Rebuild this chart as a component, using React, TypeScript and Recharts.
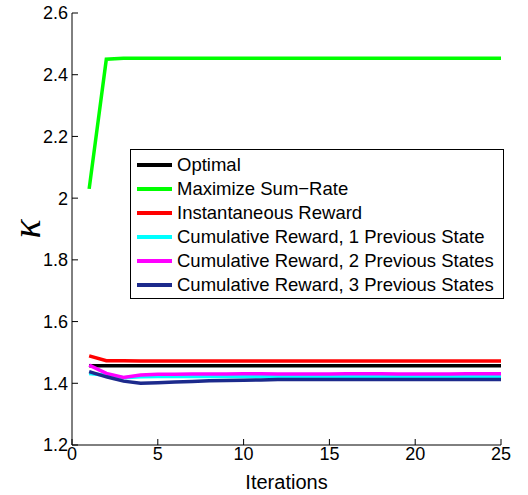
import React from 'react';
import { LineChart, Line, XAxis, YAxis, Legend } from 'recharts';

const iterations = [1, 2, 3, 4, 5, 6, 7, 8, 9, 10, 11, 12, 13, 14, 15, 16, 17, 18, 19, 20, 21, 22, 23, 24, 25];

const optimal = [1.457, 1.457, 1.457, 1.457, 1.457, 1.457, 1.457, 1.457, 1.457, 1.457, 1.457, 1.457, 1.457, 1.457, 1.457, 1.457, 1.457, 1.457, 1.457, 1.457, 1.457, 1.457, 1.457, 1.457, 1.457];
const maxSumRate = [2.03, 2.45, 2.453, 2.453, 2.453, 2.453, 2.453, 2.453, 2.453, 2.453, 2.453, 2.453, 2.453, 2.453, 2.453, 2.453, 2.453, 2.453, 2.453, 2.453, 2.453, 2.453, 2.453, 2.453, 2.453];
const instReward = [1.489, 1.473, 1.473, 1.472, 1.472, 1.472, 1.472, 1.472, 1.472, 1.472, 1.472, 1.472, 1.472, 1.472, 1.472, 1.472, 1.472, 1.472, 1.472, 1.472, 1.472, 1.472, 1.472, 1.472, 1.472];
const cumReward1 = [1.432, 1.426, 1.418, 1.421, 1.422, 1.422, 1.422, 1.422, 1.422, 1.422, 1.422, 1.422, 1.422, 1.422, 1.422, 1.422, 1.422, 1.422, 1.422, 1.422, 1.422, 1.422, 1.422, 1.422, 1.422];
const cumReward2 = [1.459, 1.432, 1.419, 1.427, 1.429, 1.429, 1.430, 1.430, 1.430, 1.431, 1.431, 1.430, 1.430, 1.430, 1.430, 1.431, 1.431, 1.431, 1.430, 1.430, 1.430, 1.430, 1.431, 1.431, 1.431];
const cumReward3 = [1.438, 1.421, 1.407, 1.400, 1.402, 1.404, 1.406, 1.408, 1.409, 1.410, 1.411, 1.412, 1.412, 1.412, 1.412, 1.412, 1.412, 1.412, 1.412, 1.412, 1.412, 1.412, 1.412, 1.412, 1.412];

const xTicks = [0, 5, 10, 15, 20, 25];
const yTicks = [1.2, 1.4, 1.6, 1.8, 2, 2.2, 2.4, 2.6];

const SERIES = [
  { key: 'optimal', name: 'Optimal', color: '#000000', values: optimal },
  { key: 'maxSumRate', name: 'Maximize Sum\u2212Rate', color: '#00ff00', values: maxSumRate },
  { key: 'instReward', name: 'Instantaneous Reward', color: '#ff0000', values: instReward },
  { key: 'cumReward1', name: 'Cumulative Reward, 1 Previous State', color: '#00ffff', values: cumReward1 },
  { key: 'cumReward2', name: 'Cumulative Reward, 2 Previous States', color: '#ff00ff', values: cumReward2 },
  { key: 'cumReward3', name: 'Cumulative Reward, 3 Previous States', color: '#1c2a8c', values: cumReward3 },
];

const data = iterations.map((it, i) => {
  const row: Record<string, number> = { it };
  SERIES.forEach((s) => {
    row[s.key] = s.values[i];
  });
  return row;
});

const FONT = '"Liberation Sans", Arial, sans-serif';
const tickStyle = { fill: '#000', fontSize: 18, fontFamily: FONT };

// legend box keeps the plotting order (the default sorter would reorder it)
function LegendBox() {
  return (
    <div
      style={{
        border: '1px solid #000',
        background: '#fff',
        padding: '3px 0 1px 6px',
        fontFamily: FONT,
        fontSize: 18.5,
        color: '#000',
        boxSizing: 'border-box',
        textAlign: 'left',
        whiteSpace: 'nowrap',
      }}
    >
      {SERIES.map((s) => (
        <div key={s.key} style={{ display: 'flex', alignItems: 'center', height: 24 }}>
          <div style={{ width: 35, height: 3.5, background: s.color, marginRight: 5, flexShrink: 0 }} />
          <span>{s.name}</span>
        </div>
      ))}
    </div>
  );
}

export default function App() {
  return (
    <div style={{ position: 'absolute', left: 0, top: 0, background: '#fff' }}>
      <LineChart width={528} height={495} data={data} margin={{ top: 13, right: 27, bottom: 0, left: 0 }}>
        <XAxis
          xAxisId="bottom"
          dataKey="it"
          type="number"
          domain={[0, 25]}
          ticks={xTicks}
          height={50}
          tick={tickStyle}
          tickSize={-6}
          tickMargin={8}
          stroke="#000"
          label={{ value: 'Iterations', position: 'insideBottom', offset: 6, fill: '#000', fontSize: 20, fontFamily: FONT }}
        />
        <XAxis
          xAxisId="top"
          orientation="top"
          dataKey="it"
          type="number"
          domain={[0, 25]}
          ticks={xTicks}
          height={0}
          tick={() => <g />}
          tickSize={-6}
          stroke="#000"
        />
        <YAxis
          yAxisId="left"
          type="number"
          domain={[1.2, 2.6]}
          ticks={yTicks}
          width={72}
          tick={tickStyle}
          tickSize={-6}
          tickMargin={10}
          stroke="#000"
          label={{
            content: () => (
              <text
                x={26}
                y={229}
                transform="rotate(-90 26 229)"
                textAnchor="middle"
                dominantBaseline="central"
                fontFamily='"Liberation Serif", serif'
                fontStyle="italic"
                fontSize={40}
                fill="#000"
              >
                κ
              </text>
            ),
          }}
        />
        <YAxis
          yAxisId="right"
          orientation="right"
          type="number"
          domain={[1.2, 2.6]}
          ticks={yTicks}
          width={0}
          tick={() => <g />}
          tickSize={-6}
          stroke="#000"
        />
        <Legend
          layout="vertical"
          align="center"
          verticalAlign="middle"
          content={<LegendBox />}
          wrapperStyle={{ left: 130, top: 149, width: 374 }}
        />
        {SERIES.map((s) => (
          <Line
            key={s.key}
            xAxisId="bottom"
            yAxisId="left"
            dataKey={s.key}
            name={s.name}
            stroke={s.color}
            strokeWidth={3.5}
            dot={false}
            type="linear"
            isAnimationActive={false}
          />
        ))}
      </LineChart>
    </div>
  );
}
